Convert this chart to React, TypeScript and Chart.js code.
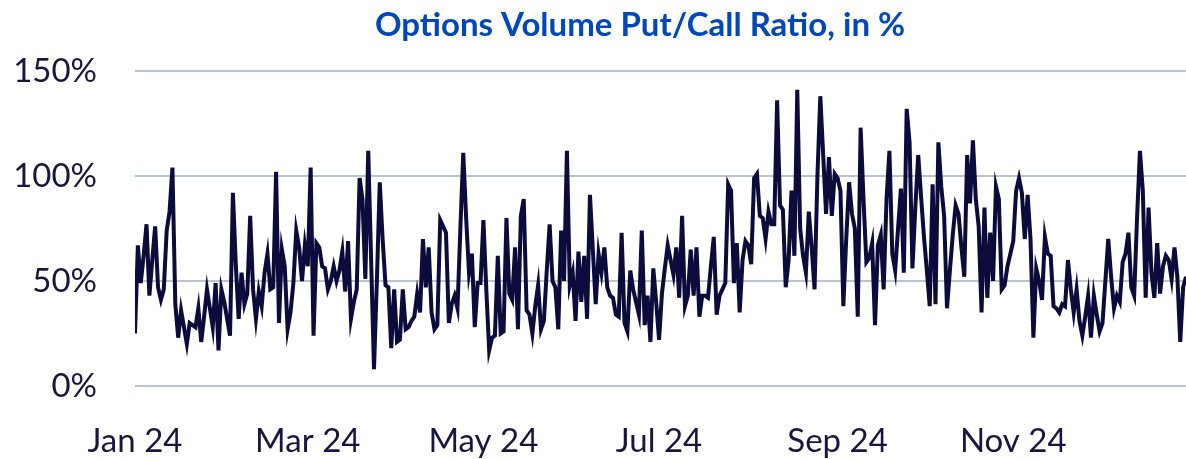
import React, { useEffect, useRef } from 'react';
import { Chart, registerables } from 'chart.js';

Chart.register(...registerables);

const TITLE = 'Options Volume Put/Call Ratio, in %';
const tickDays = [0, 60, 121, 182, 244, 305];
const tickLabels = ['Jan 24', 'Mar 24', 'May 24', 'Jul 24', 'Sep 24', 'Nov 24'];
const yTicks = [0, 50, 100, 150];

// Daily put/call ratio (%) for 2024, one value per calendar day
const jan = [25, 67, 49, 62, 77, 43, 60, 76, 47, 41, 46, 74, 83, 104, 39, 23, 36, 28, 20, 30, 29, 28, 37, 21, 33, 46, 37, 28, 49, 17, 46];
const feb = [40, 32, 24, 92, 58, 32, 54, 39, 44, 81, 46, 32, 45, 38, 54, 63, 46, 47, 102, 30, 65, 57, 27, 35, 49, 74, 66, 50, 67];
const mar = [57, 104, 24, 68, 66, 57, 56, 46, 50, 57, 50, 55, 64, 45, 69, 32, 40, 46, 99, 89, 51, 112, 60, 8, 50, 97, 70, 48, 47, 18, 46];
const apr = [21, 22, 46, 27, 28, 31, 33, 44, 35, 70, 47, 66, 35, 27, 29, 79, 76, 73, 30, 39, 43, 37, 75, 111, 80, 54, 63, 28, 49, 49];
const may = [79, 46, 17, 23, 24, 62, 25, 26, 80, 44, 41, 66, 27, 81, 89, 36, 34, 25, 38, 48, 27, 31, 55, 77, 50, 47, 27, 74, 50, 112, 48];
const jun = [54, 31, 64, 40, 62, 32, 91, 65, 39, 63, 54, 66, 47, 43, 42, 34, 33, 73, 30, 26, 55, 46, 40, 34, 74, 29, 43, 21, 56, 40];
const jul = [22, 44, 56, 67, 60, 53, 66, 42, 81, 38, 43, 65, 43, 66, 33, 43, 43, 42, 57, 71, 34, 43, 46, 49, 96, 93, 49, 68, 35, 60, 69];
const aug = [67, 58, 99, 101, 81, 80, 70, 83, 77, 77, 136, 86, 84, 47, 60, 93, 62, 141, 75, 62, 54, 83, 66, 46, 100, 138, 110, 82, 109, 81, 101];
const sep = [99, 93, 38, 70, 97, 82, 75, 33, 123, 89, 59, 61, 68, 29, 67, 72, 46, 89, 112, 63, 55, 75, 94, 54, 132, 116, 56, 85, 110, 90];
const oct = [71, 55, 38, 96, 39, 116, 95, 81, 37, 55, 72, 86, 82, 66, 52, 110, 87, 117, 89, 76, 35, 85, 42, 73, 50, 95, 89, 46, 48, 57, 63];
const nov = [69, 93, 99, 92, 70, 91, 70, 23, 56, 50, 41, 71, 63, 62, 38, 37, 35, 39, 38, 60, 46, 35, 46, 31, 24, 33, 43, 23, 43, 34];
const dec = [26, 30, 50, 70, 52, 37, 43, 40, 59, 63, 73, 47, 43, 80, 112, 93, 42, 85, 54, 42, 68, 44, 57, 62, 60, 51, 66, 52, 21, 47, 52];

const ratio = [...jan, ...feb, ...mar, ...apr, ...may, ...jun, ...jul, ...aug, ...sep, ...oct, ...nov, ...dec];

const TEXT_COLOR = '#16163f';
const LINE_COLOR = '#0c0c3c';
const GRID_COLOR = '#b9c5d3';
const TITLE_COLOR = '#0047BB';

export default function App() {
  const ref = useRef<HTMLCanvasElement>(null);

  useEffect(() => {
    document.body.style.margin = '0';
    document.body.style.overflow = 'hidden';
    const titlePlugin = {
      id: 'customTitle',
      afterDraw(chart: any) {
        const ctx = chart.ctx;
        ctx.save();
        ctx.font = 'bold 33px Lato';
        ctx.fillStyle = TITLE_COLOR;
        ctx.textAlign = 'center';
        ctx.textBaseline = 'alphabetic';
        ctx.fillText(TITLE, 640, 36);
        ctx.restore();
      },
    };
    const chart = new Chart(ref.current as HTMLCanvasElement, {
      type: 'line',
      data: {
        datasets: [
          {
            data: ratio.map((y, i) => ({ x: i, y })),
            borderColor: LINE_COLOR,
            borderWidth: 4,
            pointRadius: 0,
            tension: 0,
            fill: false,
          },
        ],
      },
      options: {
        animation: false,
        responsive: true,
        maintainAspectRatio: false,
        layout: { padding: { top: 71, right: 0, bottom: 0, left: 0 } },
        plugins: {
          legend: { display: false },
          tooltip: { enabled: false },
          title: { display: false },
        },
        scales: {
          x: {
            type: 'linear',
            min: 0,
            max: ratio.length - 1,
            grid: { display: false },
            border: { display: false },
            afterBuildTicks: (s: any) => {
              s.ticks = tickDays.map((v) => ({ value: v }));
            },
            afterFit: (s: any) => {
              s.height = 73;
            },
            ticks: {
              autoSkip: false,
              maxRotation: 0,
              padding: 28,
              color: TEXT_COLOR,
              font: { family: 'Lato', size: 33 },
              callback: (v: any) => {
                const k = tickDays.indexOf(Number(v));
                return k >= 0 ? tickLabels[k] : '';
              },
            },
          },
          y: {
            min: 0,
            max: 150,
            afterBuildTicks: (s: any) => {
              s.ticks = yTicks.map((v) => ({ value: v }));
            },
            afterFit: (s: any) => {
              s.width = 135;
            },
            grid: { color: GRID_COLOR, lineWidth: 2, drawTicks: false },
            border: { display: false },
            ticks: {
              padding: 38,
              color: TEXT_COLOR,
              font: { family: 'Lato', size: 33 },
              callback: (v: any) => v + '%',
            },
          },
        },
      },
      plugins: [titlePlugin],
    });
    return () => chart.destroy();
  }, []);

  return (
    <div style={{ width: '100%', height: '459px', position: 'relative' }}>
      <canvas ref={ref} />
    </div>
  );
}
